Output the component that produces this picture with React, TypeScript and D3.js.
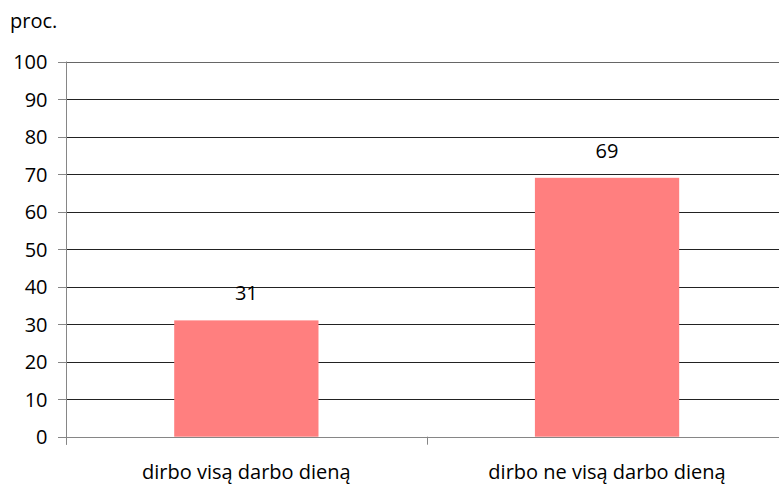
import React from "react";
import * as d3 from "d3";

const categories = ["dirbo visą darbo dieną", "dirbo ne visą darbo dieną"];
const values = [31, 69];
const yTicks = [0, 10, 20, 30, 40, 50, 60, 70, 80, 90, 100];
const unitLabel = "proc.";

const W = 779;
const H = 486;
const left = 66;
const right = 787.4;
const top = 61.5;
const bottom = 436.7;
const font = "'Open Sans', sans-serif";
const fs = 20;

export default function App() {
  const x = d3.scaleBand<string>().domain(categories).range([left, right]).paddingInner(0.6).paddingOuter(0.3);
  const band = d3.scaleBand<string>().domain(categories).range([left, right]);
  const y = d3.scaleLinear().domain([0, 100]).range([bottom, top]);
  return (
    <svg width={W} height={H} style={{ position: "absolute", left: 0, top: 0, display: "block" }}>
      <rect width={W} height={H} fill="#fff" />
      <text x={10} y={28} fontFamily={font} fontSize={fs} fill="#000">{unitLabel}</text>
      {yTicks.map((t) => (
        <g key={t}>
          {t > 0 && <line x1={left} x2={right} y1={Math.round(y(t)) + 0.5} y2={Math.round(y(t)) + 0.5} stroke={t === 100 ? "#666" : "#222"} strokeWidth={1} />}
          <line x1={58} x2={left} y1={Math.round(y(t)) + 0.5} y2={Math.round(y(t)) + 0.5} stroke="#868686" />
          <text x={47.5} y={y(t) + 7.5} textAnchor="end" fontFamily={font} fontSize={fs} fill="#000">{t}</text>
        </g>
      ))}
      {categories.map((c, i) => (
        <g key={c}>
          <rect x={x(c)} y={y(values[i])} width={x.bandwidth()} height={bottom - y(values[i])} fill="#FF7F7F" />
          <text x={x(c)! + x.bandwidth() / 2} y={y(values[i]) - 20} textAnchor="middle" fontFamily={font} fontSize={fs} fill="#000">{values[i]}</text>
          <text x={band(c)! + band.bandwidth() / 2} y={479} textAnchor="middle" fontFamily={font} fontSize={fs} fill="#000">{c}</text>
        </g>
      ))}
      <line x1={left + 0.5} x2={left + 0.5} y1={top} y2={bottom + 8} stroke="#868686" />
      <line x1={left} x2={right} y1={Math.round(bottom) + 0.5} y2={Math.round(bottom) + 0.5} stroke="#868686" />
      {[...categories.map((c) => band(c)!), right].map((v, i) => (
        <line key={i} x1={Math.round(v) + 0.5} x2={Math.round(v) + 0.5} y1={bottom} y2={bottom + 8} stroke="#868686" />
      ))}
    </svg>
  );
}
